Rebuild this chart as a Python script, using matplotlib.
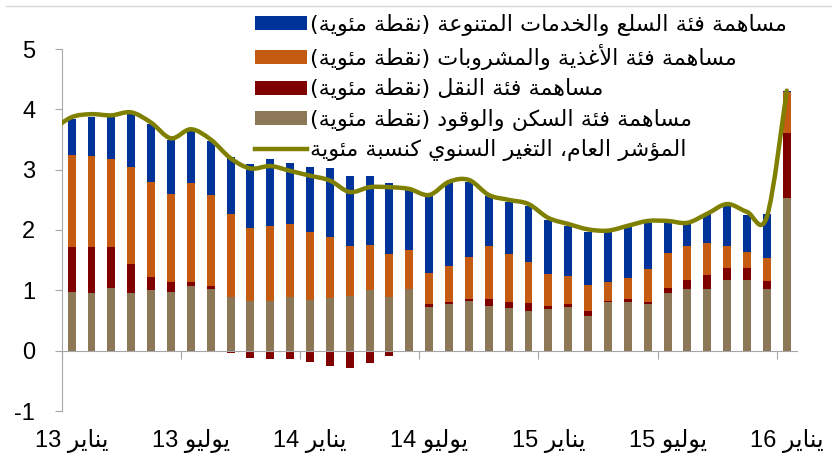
import re
import numpy as np
import matplotlib
matplotlib.use('Agg')
import matplotlib.pyplot as plt
from matplotlib.path import Path
from matplotlib.patches import PathPatch
from matplotlib.lines import Line2D

# مساهمات الفئات (نقطة مئوية)، من يناير 2013 إلى يناير 2016
housing = [0.98, 0.95, 1.04, 0.95, 1.00, 0.97, 1.08, 1.03, 0.89, 0.82,
           0.82, 0.89, 0.84, 0.87, 0.91, 1.00, 0.89, 1.02, 0.72, 0.78,
           0.83, 0.74, 0.70, 0.66, 0.69, 0.72, 0.58, 0.80, 0.80, 0.77,
           0.95, 1.03, 1.03, 1.17, 1.17, 1.03, 2.53]
transport = [0.73, 0.77, 0.68, 0.49, 0.22, 0.16, 0.06, 0.04, -0.04, -0.12,
             -0.13, -0.14, -0.18, -0.25, -0.28, -0.21, -0.09, 0.00, 0.05, 0.02,
             0.02, 0.11, 0.10, 0.13, 0.05, 0.05, 0.08, 0.02, 0.05, 0.04,
             0.09, 0.14, 0.23, 0.20, 0.20, 0.13, 1.08]
food = [1.53, 1.50, 1.45, 1.61, 1.58, 1.47, 1.64, 1.51, 1.38, 1.21,
        1.25, 1.21, 1.13, 1.02, 0.83, 0.75, 0.72, 0.65, 0.52, 0.61,
        0.71, 0.89, 0.80, 0.68, 0.53, 0.46, 0.43, 0.32, 0.36, 0.54,
        0.58, 0.57, 0.53, 0.36, 0.26, 0.37, 0.67]
misc = [0.60, 0.66, 0.70, 0.88, 0.96, 0.89, 0.86, 0.90, 0.94, 1.07,
        1.10, 1.01, 1.08, 1.14, 1.16, 1.15, 1.17, 1.00, 1.27, 1.39,
        1.23, 0.82, 0.87, 0.92, 0.89, 0.84, 0.88, 0.83, 0.85, 0.76,
        0.51, 0.37, 0.48, 0.67, 0.62, 0.74, 0.03]
# المؤشر العام، يبدأ من ديسمبر 2012
total = [3.65, 3.87, 3.92, 3.90, 3.95, 3.78, 3.52, 3.67, 3.50, 3.19,
         3.02, 3.06, 2.98, 2.90, 2.82, 2.63, 2.71, 2.71, 2.68, 2.58,
         2.80, 2.83, 2.58, 2.50, 2.43, 2.20, 2.10, 2.01, 1.99, 2.07,
         2.15, 2.15, 2.12, 2.27, 2.43, 2.30, 2.22, 4.31]

month_labels = ['يناير 13', 'يوليو 13', 'يناير 14', 'يوليو 14',
                'يناير 15', 'يوليو 15', 'يناير 16']
series_labels = ['مساهمة فئة السلع والخدمات المتنوعة (نقطة مئوية)',
                 'مساهمة فئة الأغذية والمشروبات (نقطة مئوية)',
                 'مساهمة فئة النقل (نقطة مئوية)',
                 'مساهمة فئة السكن والوقود (نقطة مئوية)',
                 'المؤشر العام، التغير السنوي كنسبة مئوية']

c_misc, c_food, c_trans, c_house, c_line = '#003399', '#C55A11', '#800000', '#8C7856', '#808000'

# أشكال الحروف العربية (Presentation Forms-B): أول رمز وعدد الأشكال
AR = {'ا': (0xFE8D, 2), 'أ': (0xFE83, 2), 'ؤ': (0xFE85, 2), 'ئ': (0xFE89, 4),
      'ب': (0xFE8F, 4), 'ة': (0xFE93, 2), 'ت': (0xFE95, 4), 'خ': (0xFEA5, 4),
      'د': (0xFEA9, 2), 'ذ': (0xFEAB, 2), 'ر': (0xFEAD, 2), 'س': (0xFEB1, 4),
      'ش': (0xFEB5, 4), 'ط': (0xFEC1, 4), 'ع': (0xFEC9, 4), 'غ': (0xFECD, 4),
      'ف': (0xFED1, 4), 'ق': (0xFED5, 4), 'ك': (0xFED9, 4), 'ل': (0xFEDD, 4),
      'م': (0xFEE1, 4), 'ن': (0xFEE5, 4), 'ه': (0xFEE9, 4), 'و': (0xFEED, 2),
      'ي': (0xFEF1, 4)}
LAM_ALEF = {'ا': 0xFEFB, 'أ': 0xFEF7}


def ar(text):
    """Shape Arabic text and put it in visual (left-to-right) order."""
    out = []
    i = 0
    while i < len(text):
        c = text[i]
        if c not in AR:
            out.append(c)
            i += 1
            continue
        prev = text[i - 1] if i > 0 else ''
        joins_prev = prev in AR and AR[prev][1] == 4
        nxt = text[i + 1] if i + 1 < len(text) else ''
        if c == 'ل' and nxt in LAM_ALEF:
            out.append(chr(LAM_ALEF[nxt] + joins_prev))
            i += 2
            continue
        joins_next = AR[c][1] == 4 and nxt in AR
        if joins_prev and joins_next:
            k = 3
        elif joins_prev:
            k = 1
        elif joins_next:
            k = 2
        else:
            k = 0
        out.append(chr(AR[c][0] + k))
        i += 1
    s = ''.join(out)[::-1]
    s = s.translate(str.maketrans('()', ')('))
    return re.sub(r'\d+', lambda m: m.group()[::-1], s)


plt.rcParams['axes.unicode_minus'] = False

housing = np.array(housing)
transport = np.array(transport)
food = np.array(food)
misc = np.array(misc)
x = np.arange(len(housing))
x_line = np.arange(-1, len(housing))

fig = plt.figure(figsize=(8.32, 4.66), dpi=100)
ax = fig.add_axes([61.7 / 832, 1 - 411 / 466, 735 / 832, 362 / 466])

w = 0.4
b_house = ax.bar(x, housing, width=w, color=c_house)
trans_bottom = np.where(transport > 0, housing, 0)
b_trans = ax.bar(x, transport, width=w, bottom=trans_bottom, color=c_trans)
food_bottom = housing + np.clip(transport, 0, None)
b_food = ax.bar(x, food, width=w, bottom=food_bottom, color=c_food)
b_misc = ax.bar(x, misc, width=w, bottom=food_bottom + food, color=c_misc)

# خط منحنٍ ناعم (مثل Excel)
pts = np.column_stack([x_line, total])
padded = np.vstack([pts[0], pts, pts[-1]])
verts = [pts[0]]
codes = [Path.MOVETO]
for i in range(len(pts) - 1):
    p0, p1, p2, p3 = padded[i], padded[i + 1], padded[i + 2], padded[i + 3]
    verts += [p1 + (p2 - p0) / 6, p2 - (p3 - p1) / 6, p2]
    codes += [Path.CURVE4] * 3
ax.add_patch(PathPatch(Path(verts, codes), fill=False, edgecolor=c_line,
                       lw=3.2, capstyle='round', joinstyle='round', zorder=3))

ax.set_xlim(-0.5, len(housing) - 0.5)
ax.set_ylim(-1, 5)
ax.set_yticks(range(-1, 6))
for s in ['top', 'right']:
    ax.spines[s].set_visible(False)
ax.spines['bottom'].set_position(('data', 0))
for s in ['left', 'bottom']:
    ax.spines[s].set_color('#a6a6a6')
ax.set_xticks(np.arange(-0.5, len(housing), 6))
ax.set_xticklabels([])
ax.tick_params(axis='x', length=6, color='#a6a6a6', direction='out')
ax.tick_params(axis='y', length=5, color='#a6a6a6', pad=14,
               labelsize=17)
for t in ax.get_yticklabels():
    t.set_family('Liberation Sans')

sec = ax.secondary_xaxis(0)
sec.set_xticks(x[::6], [ar(m) for m in month_labels])
sec.spines['bottom'].set_visible(False)
sec.tick_params(length=0, pad=13)
for t in sec.get_xticklabels():
    t.set_family(['Liberation Sans', 'DejaVu Sans'])
    t.set_fontsize(17)

handles = [b_misc, b_food, b_trans, b_house, Line2D([], [], color=c_line, lw=3.2)]
ax.legend(handles, [ar(s) for s in series_labels], loc='upper left',
          bbox_to_anchor=(255 / 832, 1 - 13.5 / 466), bbox_transform=fig.transFigure,
          frameon=False, prop={'family': 'DejaVu Sans', 'size': 16},
          handlelength=2.34, handleheight=0.59, handletextpad=0.14,
          labelspacing=0.38, borderpad=0, borderaxespad=0)

fig.add_artist(Line2D([6 / 832, 1], [1 - 6 / 466, 1 - 6 / 466],
                      transform=fig.transFigure, color='#d9d9d9', lw=1))

fig.savefig('out.png', dpi=100)
